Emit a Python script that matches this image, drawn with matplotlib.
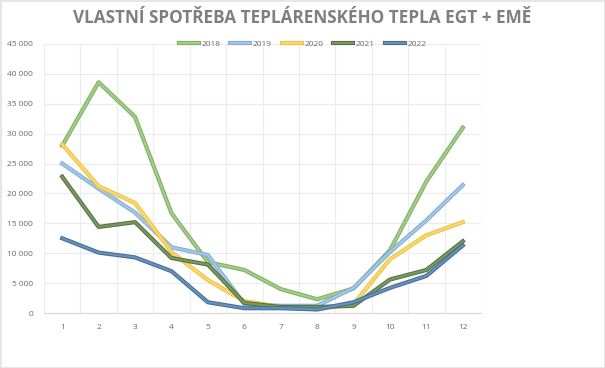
import matplotlib
matplotlib.use('Agg')
from matplotlib import pyplot as plt
import matplotlib.patheffects as pe
import matplotlib.ticker as ticker

months = [1, 2, 3, 4, 5, 6, 7, 8, 9, 10, 11, 12]
years = ['2018', '2019', '2020', '2021', '2022']
v2018 = [28000, 38600, 32800, 16700, 8500, 7200, 4000, 2300, 4100, 10500, 22000, 31000]
v2019 = [25000, 20800, 16800, 11000, 9700, 1500, 1200, 1200, 4200, 10200, 15500, 21400]
v2020 = [28200, 21200, 18400, 10200, 5500, 2000, 1000, 600, 1500, 9000, 13000, 15200]
v2021 = [22800, 14400, 15200, 9200, 8100, 1700, 1000, 1000, 1200, 5600, 7200, 12000]
v2022 = [12500, 10100, 9300, 7000, 1800, 800, 800, 600, 1800, 4200, 6200, 11300]
colors = ['#a3cd88', '#a3c8e8', '#ffd966', '#7a9960', '#6790b8']
edges = ['#7faf63', '#82add4', '#e8c24c', '#55703f', '#44709a']

plt.rcParams['font.family'] = ['Open Sans', 'DejaVu Sans']

fig = plt.figure(figsize=(6.05, 3.68), dpi=100)
fig.patch.set_edgecolor('#e6e6e6')
fig.patch.set_linewidth(2)
ax = fig.add_axes([44/605, 1-313/368, (481-44)/605, (313-44)/368])

for name, vals, c, ec in zip(years, [v2018, v2019, v2020, v2021, v2022], colors, edges):
    ax.plot(months, vals, color=c, lw=1.5, label=name,
            path_effects=[pe.Stroke(linewidth=3.0, foreground=ec), pe.Normal()])

ax.set_xlim(0.5, 12.5)
ax.set_ylim(0, 45000)
ax.set_xticks(months)
ax.set_xticks([m + 0.5 for m in range(0, 13)], minor=True)
ax.yaxis.set_major_locator(ticker.MultipleLocator(5000))
ax.yaxis.set_major_formatter(ticker.FuncFormatter(lambda v, p: f'{int(v):,}'.replace(',', ' ')))
ax.grid(True, which='major', axis='y', color='#ececec', lw=0.8)
ax.grid(True, which='minor', axis='x', color='#ececec', lw=0.8)
ax.tick_params(which='both', length=0, labelsize=6, colors='#6a6a6a', pad=8)
for s in ax.spines.values():
    s.set_visible(False)
ax.spines['bottom'].set_visible(True)
ax.spines['bottom'].set_color('#d9d9d9')

fig.text(0.5, 0.952, 'VLASTNÍ SPOTŘEBA TEPLÁRENSKÉHO TEPLA EGT + EMĚ', ha='center', va='center',
         fontsize=12.3, fontweight='bold', color='#7f7f7f')
fig.legend(loc='center', bbox_to_anchor=(0.5, 1-44/368), ncol=5, frameon=False, fontsize=6,
           handlelength=2.4, columnspacing=1.2, handletextpad=0.3, labelcolor='#6a6a6a')

fig.savefig('out.png', dpi=100)
